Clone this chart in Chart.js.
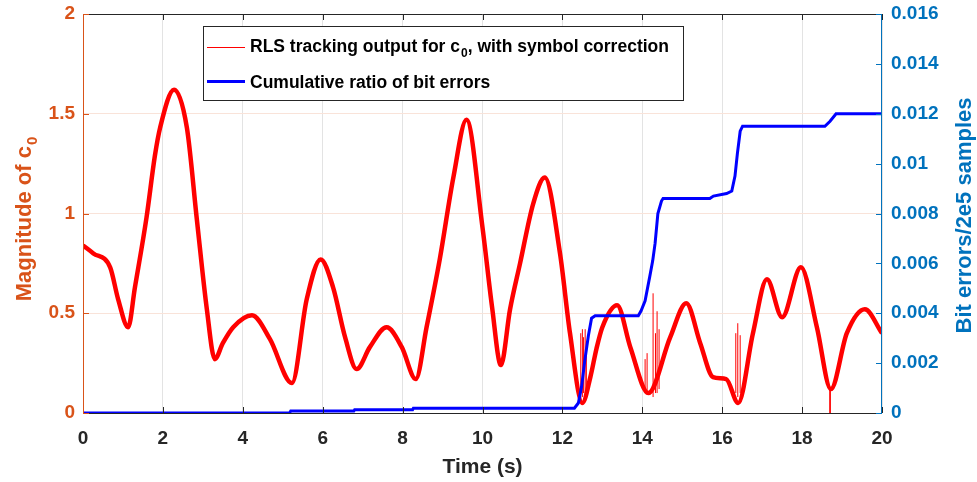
<!DOCTYPE html>
<html>
<head>
<meta charset="utf-8">
<script src="https://cdn.jsdelivr.net/npm/chart.js@4.4.1/dist/chart.umd.min.js"></script>
<style>
  html, body { margin: 0; padding: 0; background: #ffffff; }
  #wrap { width: 977px; height: 482px; }
</style>
</head>
<body>
<div id="wrap"><canvas id="c" width="977" height="482"></canvas></div>
<script>
// ---------- data ----------
const xTicks = [0, 2, 4, 6, 8, 10, 12, 14, 16, 18, 20];
const xTickLabels = ['0', '2', '4', '6', '8', '10', '12', '14', '16', '18', '20'];
const leftTicks = [0, 0.5, 1, 1.5, 2];
const leftTickLabels = ['0', '0.5', '1', '1.5', '2'];
const rightTicks = [0, 0.002, 0.004, 0.006, 0.008, 0.01, 0.012, 0.014, 0.016];
const rightTickLabels = ['0', '0.002', '0.004', '0.006', '0.008', '0.01', '0.012', '0.014', '0.016'];

const xTitle = 'Time (s)';
const leftTitleMain = 'Magnitude of c';
const leftTitleSub = '0';
const rightTitle = 'Bit errors/2e5 samples';
const legendRedParts = ['RLS tracking output for c', '0', ', with symbol correction'];
const legendBlueLabel = 'Cumulative ratio of bit errors';

// RLS tracking output (centre of the noisy band)
const redT = [0, 0.26, 0.68, 0.88, 1.13, 1.3, 1.59, 1.8, 1.93, 2.28, 2.6, 2.85, 3.1, 3.3, 3.5, 3.76, 4.23, 4.68, 5.23, 5.6, 5.95, 6.26, 6.56, 6.85, 7.18, 7.6, 7.98, 8.33, 8.6, 8.93, 9.27, 9.6, 10.0, 10.24, 10.46, 10.69, 10.94, 11.27, 11.56, 11.94, 12.19, 12.5, 12.7, 12.85, 13.0, 13.37, 13.7, 14.15, 14.7, 15.1, 15.45, 15.77, 16.1, 16.4, 16.77, 17.12, 17.5, 17.97, 18.37, 18.72, 19.12, 19.57, 20];
const redV = [0.84, 0.80, 0.73, 0.57, 0.43, 0.63, 0.98, 1.29, 1.43, 1.62, 1.43, 0.97, 0.52, 0.27, 0.35, 0.43, 0.49, 0.37, 0.15, 0.57, 0.77, 0.63, 0.38, 0.22, 0.33, 0.43, 0.33, 0.17, 0.43, 0.77, 1.18, 1.47, 0.93, 0.53, 0.24, 0.52, 0.75, 1.05, 1.18, 0.80, 0.40, 0.05, 0.18, 0.32, 0.43, 0.54, 0.33, 0.10, 0.38, 0.55, 0.35, 0.18, 0.17, 0.05, 0.40, 0.67, 0.48, 0.73, 0.43, 0.12, 0.40, 0.52, 0.40];

// isolated spikes in the tracking output
const spikeT = [12.46, 12.5, 12.53, 12.57, 12.6, 14.07, 14.12, 14.27, 14.33, 14.37, 14.42, 16.34, 16.39, 16.45, 18.7];
const spikeLow = [0.10, 0.08, 0.10, 0.08, 0.12, 0.12, 0.10, 0.08, 0.10, 0.10, 0.12, 0.10, 0.08, 0.10, 0.12];
const spikeHigh = [0.40, 0.42, 0.38, 0.42, 0.30, 0.27, 0.30, 0.60, 0.40, 0.51, 0.42, 0.40, 0.45, 0.39, 0.0];

// cumulative ratio of bit errors (right axis)
const blueT = [0, 5.17, 5.2, 6.78, 6.8, 8.25, 8.27, 12.3, 12.4, 12.48, 12.56, 12.65, 12.73, 12.82, 13.9, 13.97, 14.07, 14.19, 14.26, 14.32, 14.39, 14.48, 14.52, 15.69, 15.78, 16.11, 16.24, 16.32, 16.38, 16.45, 16.51, 18.57, 18.7, 18.85, 20];
const blueV = [0, 0, 0.00008, 0.00008, 0.00013, 0.00013, 0.00019, 0.00019, 0.0004, 0.00105, 0.0021, 0.0031, 0.0038, 0.0039, 0.0039, 0.0041, 0.0045, 0.0055, 0.0061, 0.0068, 0.0080, 0.0085, 0.0086, 0.0086, 0.0087, 0.0088, 0.0089, 0.0095, 0.0104, 0.0113, 0.0115, 0.0115, 0.0117, 0.0120, 0.0120];

// ---------- styling ----------
const C_RED = '#ff0000';
const C_BLUE = '#0000ff';
const C_LEFT = '#d95319';
const C_RIGHT = '#0072bd';
const C_AXIS = '#262626';
const FONT = 'Arial, "Liberation Sans", Helvetica, sans-serif';

const redData = redT.map((t, i) => ({ x: t, y: redV[i] }));
const spikeData = [];
spikeT.forEach((t, i) => {
  spikeData.push({ x: t, y: spikeLow[i] });
  spikeData.push({ x: t, y: spikeHigh[i] });
  spikeData.push({ x: t, y: null });
});
const blueData = blueT.map((t, i) => ({ x: t, y: blueV[i] }));

const framePlugin = {
  id: 'framePlugin',
  afterDatasetsDraw(chart) {
    const { ctx, chartArea: a, scales } = chart;
    ctx.save();
    ctx.lineWidth = 1;
    ctx.strokeStyle = C_AXIS;
    ctx.beginPath();
    ctx.moveTo(a.left, a.top + 0.5); ctx.lineTo(a.right, a.top + 0.5);
    ctx.moveTo(a.left, a.bottom + 0.5); ctx.lineTo(a.right, a.bottom + 0.5);
    ctx.stroke();
    ctx.beginPath();
    xTicks.forEach(v => {
      const px = Math.round(scales.x.getPixelForValue(v)) + 0.5;
      ctx.moveTo(px, a.bottom); ctx.lineTo(px, a.bottom - 6);
      ctx.moveTo(px, a.top); ctx.lineTo(px, a.top + 6);
    });
    ctx.stroke();
    ctx.strokeStyle = C_LEFT;
    ctx.beginPath();
    ctx.moveTo(a.left + 0.5, a.top); ctx.lineTo(a.left + 0.5, a.bottom + 1);
    leftTicks.forEach(v => {
      const py = Math.round(scales.y.getPixelForValue(v)) + 0.5;
      ctx.moveTo(a.left, py); ctx.lineTo(a.left + 6, py);
    });
    ctx.stroke();
    ctx.strokeStyle = C_RIGHT;
    ctx.beginPath();
    ctx.moveTo(a.right - 0.5, a.top); ctx.lineTo(a.right - 0.5, a.bottom + 1);
    rightTicks.forEach(v => {
      const py = Math.round(scales.y1.getPixelForValue(v)) + 0.5;
      ctx.moveTo(a.right, py); ctx.lineTo(a.right - 6, py);
    });
    ctx.stroke();
    ctx.restore();
  },
  afterDraw(chart) {
    const { ctx, chartArea: a } = chart;
    ctx.save();
    ctx.fillStyle = C_AXIS;
    ctx.font = 'bold 21px ' + FONT;
    ctx.textAlign = 'center';
    ctx.textBaseline = 'middle';
    ctx.fillText(xTitle, (a.left + a.right) / 2, 467);

    // left title with subscript
    ctx.save();
    ctx.translate(31, (a.top + a.bottom) / 2 + 6);
    ctx.rotate(-Math.PI / 2);
    ctx.fillStyle = C_LEFT;
    ctx.font = 'bold 22px ' + FONT;
    const wMain = ctx.measureText(leftTitleMain).width;
    ctx.font = 'bold 15px ' + FONT;
    const wSub = ctx.measureText(leftTitleSub).width;
    const start = -(wMain + wSub) / 2;
    ctx.textAlign = 'left';
    ctx.textBaseline = 'alphabetic';
    ctx.font = 'bold 22px ' + FONT;
    ctx.fillText(leftTitleMain, start, 0);
    ctx.font = 'bold 15px ' + FONT;
    ctx.fillText(leftTitleSub, start + wMain + 1, 6);
    ctx.restore();

    // right title
    ctx.save();
    ctx.translate(965, (a.top + a.bottom) / 2 + 2);
    ctx.rotate(-Math.PI / 2);
    ctx.fillStyle = C_RIGHT;
    ctx.font = 'bold 22px ' + FONT;
    ctx.textAlign = 'center';
    ctx.textBaseline = 'middle';
    ctx.fillText(rightTitle, 0, 0);
    ctx.restore();

    // legend box
    const bx = 203, by = 26, bw = 480, bh = 74;
    ctx.fillStyle = '#ffffff';
    ctx.fillRect(bx, by, bw, bh);
    ctx.strokeStyle = '#262626';
    ctx.lineWidth = 1;
    ctx.strokeRect(bx + 0.5, by + 0.5, bw, bh);
    ctx.fillStyle = C_RED;
    ctx.fillRect(207, 47, 38, 1);
    ctx.fillStyle = C_BLUE;
    ctx.fillRect(207, 80, 38, 3);
    ctx.fillStyle = '#000000';
    ctx.textAlign = 'left';
    ctx.textBaseline = 'alphabetic';
    let x = 250;
    ctx.font = 'bold 17.5px ' + FONT;
    ctx.fillText(legendRedParts[0], x, 52);
    x += ctx.measureText(legendRedParts[0]).width + 1;
    ctx.font = 'bold 12px ' + FONT;
    ctx.fillText(legendRedParts[1], x, 57);
    x += ctx.measureText(legendRedParts[1]).width;
    ctx.font = 'bold 17.5px ' + FONT;
    ctx.fillText(legendRedParts[2], x, 52);
    ctx.fillText(legendBlueLabel, 250, 88);
    ctx.restore();
  }
};

new Chart(document.getElementById('c'), {
  type: 'line',
  data: {
    datasets: [
      {
        label: legendBlueLabel,
        data: blueData,
        yAxisID: 'y1',
        borderColor: C_BLUE,
        borderWidth: 3,
        pointRadius: 0,
        tension: 0,
        order: 0
      },
      {
        label: 'spikes',
        data: spikeData,
        yAxisID: 'y',
        borderColor: C_RED,
        borderWidth: 1,
        pointRadius: 0,
        spanGaps: false,
        tension: 0,
        order: 1
      },
      {
        label: legendRedParts.join(''),
        data: redData,
        yAxisID: 'y',
        borderColor: C_RED,
        borderWidth: 4.5,
        pointRadius: 0,
        cubicInterpolationMode: 'monotone',
        order: 2
      }
    ]
  },
  options: {
    responsive: false,
    animation: false,
    events: [],
    layout: { padding: { top: 14, left: 0, right: 0, bottom: 0 } },
    plugins: { legend: { display: false }, tooltip: { enabled: false } },
    scales: {
      x: {
        type: 'linear',
        min: 0, max: 20,
        afterBuildTicks: s => { s.ticks = xTicks.map(v => ({ value: v })); },
        afterFit: s => { s.height = 69; s.paddingLeft = 0; s.paddingRight = 0; },
        grid: { color: '#e3e3e3', drawTicks: false },
        border: { display: false },
        ticks: {
          color: C_AXIS,
          font: { family: FONT, size: 19, weight: 'bold' },
          padding: 14,
          maxRotation: 0,
          autoSkip: false,
          callback: (v, i) => xTickLabels[i]
        }
      },
      y: {
        type: 'linear',
        position: 'left',
        min: 0, max: 2,
        afterBuildTicks: s => { s.ticks = leftTicks.map(v => ({ value: v })); },
        afterFit: s => { s.width = 83; s.paddingTop = 0; s.paddingBottom = 0; },
        grid: { color: '#f9e3d9', drawTicks: false },
        border: { display: false },
        ticks: {
          color: C_LEFT,
          font: { family: FONT, size: 19, weight: 'bold' },
          padding: 8,
          autoSkip: false,
          callback: (v, i) => leftTickLabels[i]
        }
      },
      y1: {
        type: 'linear',
        position: 'right',
        min: 0, max: 0.016,
        afterBuildTicks: s => { s.ticks = rightTicks.map(v => ({ value: v })); },
        afterFit: s => { s.width = 95; s.paddingTop = 0; s.paddingBottom = 0; },
        grid: { display: false, drawTicks: false },
        border: { display: false },
        ticks: {
          color: C_RIGHT,
          font: { family: FONT, size: 19, weight: 'bold' },
          padding: 9,
          autoSkip: false,
          callback: (v, i) => rightTickLabels[i]
        }
      }
    }
  },
  plugins: [framePlugin]
});
</script>
</body>
</html>
